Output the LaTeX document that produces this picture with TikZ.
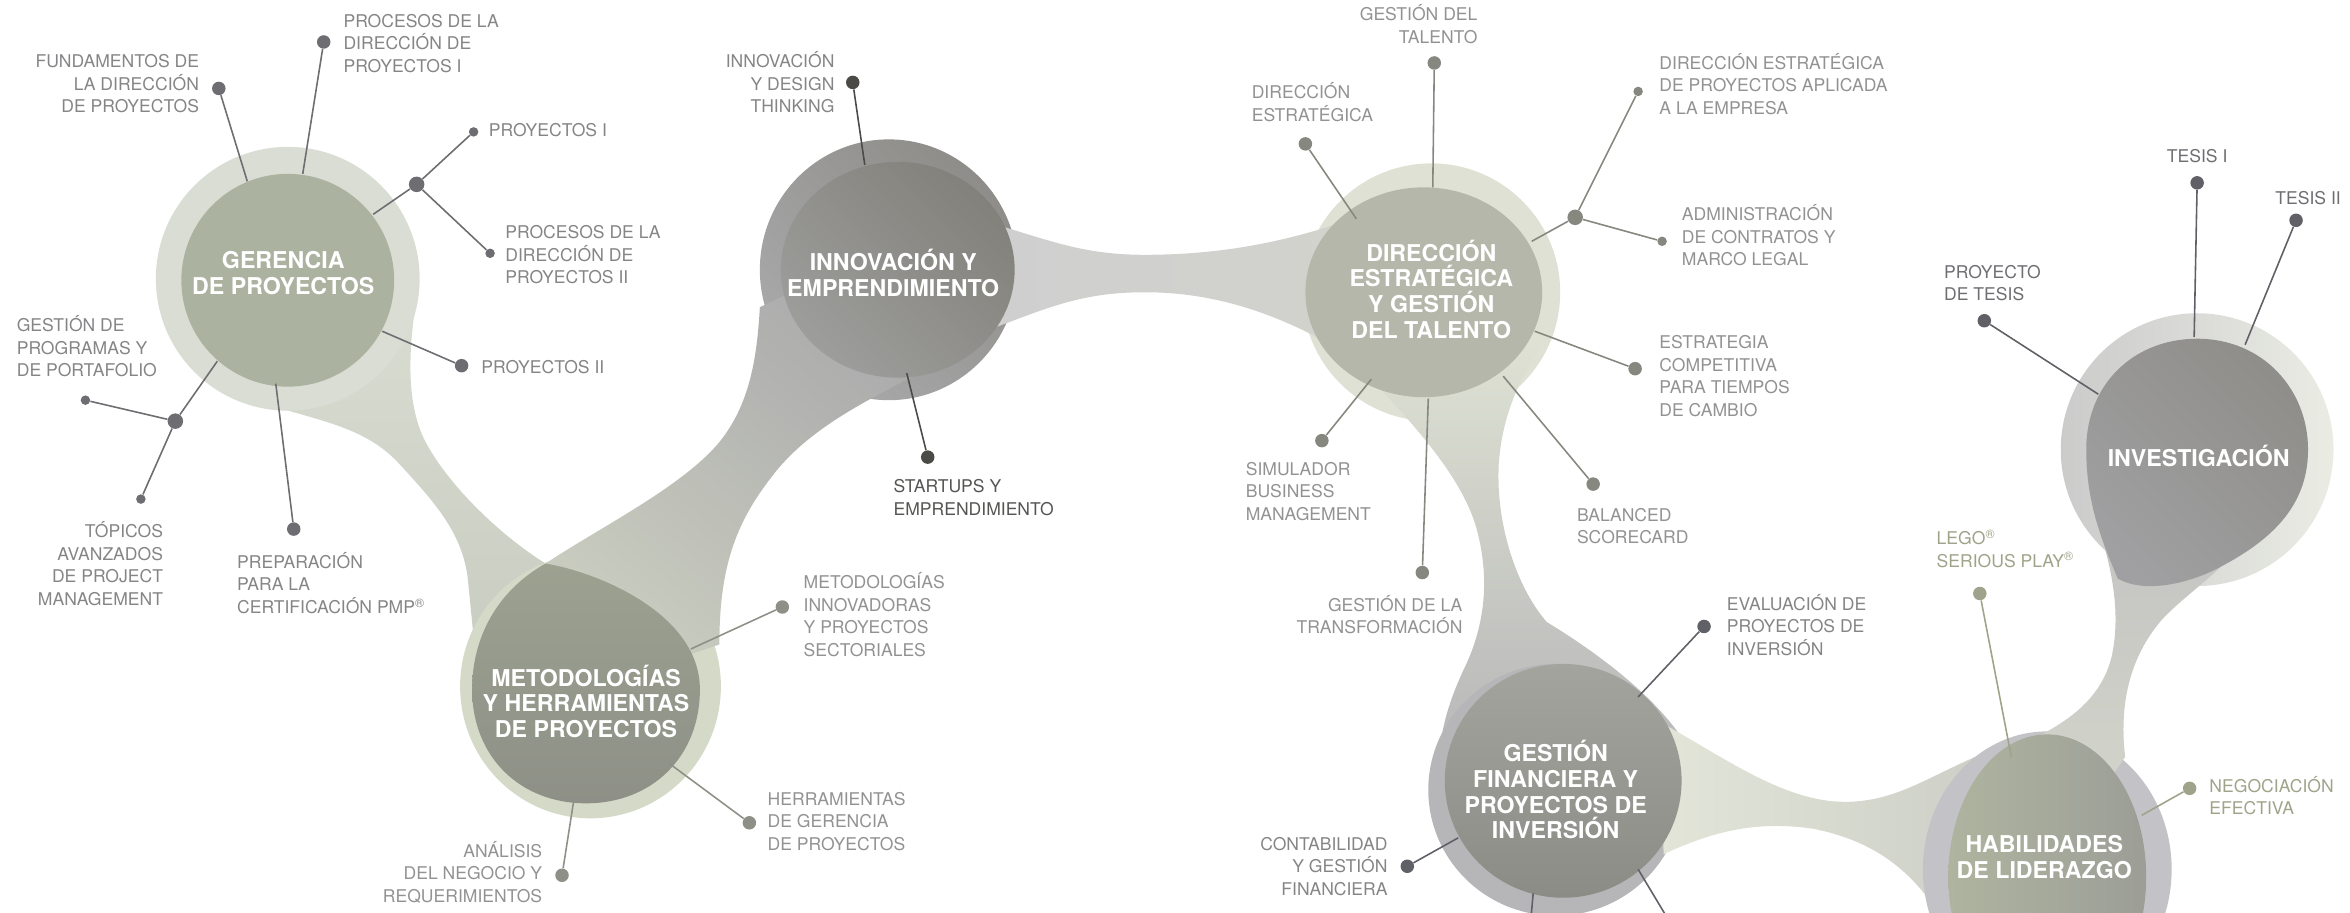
\documentclass[tikz,border=0pt]{standalone}
\usepackage{fontspec}
\setmainfont{TeX Gyre Heros}
\usepackage{tikz}

\definecolor{gerhalo}{HTML}{D9DDD3}
\definecolor{gerinner}{HTML}{ABB2A0}
\definecolor{gertailA}{HTML}{D8DCD1}
\definecolor{gertailB}{HTML}{C9CCC0}
\definecolor{methalo}{HTML}{D5D9C7}
\definecolor{metinnerA}{HTML}{9CA190}
\definecolor{metinnerB}{HTML}{8E9087}
\definecolor{bandgreen}{HTML}{C9CCBF}
\definecolor{bandgray}{HTML}{A8A8AA}
\definecolor{innhaloA}{HTML}{8E8D89}
\definecolor{innhaloB}{HTML}{A9A9AB}
\definecolor{inninnerA}{HTML}{82817B}
\definecolor{inninnerB}{HTML}{9D9D9B}
\definecolor{bandlA}{HTML}{CFCFCF}
\definecolor{bandlB}{HTML}{DBDBDB}
\definecolor{bandlC}{HTML}{D2D3CD}
\definecolor{dirhalo}{HTML}{DEE1D3}
\definecolor{dirinner}{HTML}{B5B7AB}
\definecolor{dirtailA}{HTML}{DEE1D3}
\definecolor{dirtailB}{HTML}{D2D5CA}
\definecolor{dirtailC}{HTML}{B4B4B6}
\definecolor{geshalo}{HTML}{B6B6B8}
\definecolor{gesinnerA}{HTML}{A2A49D}
\definecolor{gesinnerB}{HTML}{8B8C85}
\definecolor{habbandA}{HTML}{E2E5D8}
\definecolor{habbandB}{HTML}{CCCEC6}
\definecolor{habhalo}{HTML}{C3C3C7}
\definecolor{habinnerA}{HTML}{AFB49F}
\definecolor{habinnerB}{HTML}{9C9E97}
\definecolor{invtailA}{HTML}{C3C3C1}
\definecolor{invtailB}{HTML}{D5D7CC}
\definecolor{invhaloA}{HTML}{CBCBCB}
\definecolor{invhaloB}{HTML}{EAECE4}
\definecolor{invinnerA}{HTML}{8F8E8A}
\definecolor{invinnerB}{HTML}{A0A0A2}
\definecolor{gerdot}{HTML}{6D6D72}
\definecolor{metdot}{HTML}{8E9087}
\definecolor{inndot}{HTML}{4B4A46}
\definecolor{dirdot}{HTML}{86877F}
\definecolor{gesdot}{HTML}{606067}
\definecolor{habdot}{HTML}{A0A38B}
\definecolor{invdot}{HTML}{606066}
\definecolor{txtger}{HTML}{858587}
\definecolor{txtgray}{HTML}{929292}
\definecolor{txtdark}{HTML}{555553}
\definecolor{txtinv}{HTML}{6E6E73}
\definecolor{txtolive}{HTML}{A0A38A}

\begin{document}
\begin{tikzpicture}[x=0.03cm,y=-0.03cm,
		dotS/.style={circle,fill=#1,inner sep=0pt,minimum size=1.9mm},
		dotM/.style={circle,fill=#1,inner sep=0pt,minimum size=2.7mm},
		dotL/.style={circle,fill=#1,inner sep=0pt,minimum size=3.1mm},
		leader/.style={draw=#1,line width=0.9pt},
		lbl/.style={font=\fontsize{10}{12.8}\selectfont,text=#1,inner sep=0pt},
		lblL/.style={lbl=#1,anchor=west,align=left},
		lblR/.style={lbl=#1,anchor=east,align=right},
		ttl/.style={font=\bfseries\fontsize{13.2}{14.6}\selectfont,text=white,align=center,inner sep=0pt}
		]
		\clip (0,0) rectangle (1568,609);
		% blobs
		\shade[top color=gertailA, bottom color=gertailB] (168,266) .. controls (205,280) and (240,282) .. (265,308) .. controls (290,335) and (308,355) .. (312,385) -- (316,425) -- (370,440) -- (364,376) .. controls (335,358) and (300,325) .. (284,295) .. controls (272,272) and (272,240) .. (277,205) -- cycle;
		\fill[gerhalo] (192,186) ellipse [x radius=88, y radius=88];
		\fill[methalo] (394,458) ellipse [x radius=87, y radius=88];
		\shade[top color=innhaloA, bottom color=innhaloB, shading angle=-45] (593,180) ellipse [x radius=86, y radius=87];
		\shade[top color=bandgray, bottom color=bandgreen, shading angle=-40] (364,376) .. controls (400,352) and (455,325) .. (480,295) .. controls (500,270) and (505,240) .. (507,205) -- (580,170) -- (645,232) .. controls (600,258) and (545,278) .. (515,318) .. controls (490,350) and (480,380) .. (480,430) -- (420,450) -- cycle;
		\fill[dirhalo] (955,195) ellipse [x radius=86, y radius=86];
		\shade[left color=bandlA, middle color=bandlB, right color=bandlC] (665,150) .. controls (705,162) and (725,170) .. (764,170) .. controls (810,170) and (855,163) .. (905,145) -- (905,240) .. controls (860,212) and (815,195) .. (764,195) .. controls (722,195) and (700,205) .. (660,220) -- cycle;
		\shade[top color=dirtailA, middle color=dirtailB, bottom color=dirtailC] (912,250) .. controls (945,285) and (975,318) .. (985,352) .. controls (995,388) and (990,420) .. (976,448) .. controls (966,470) and (960,490) .. (960,515) -- (1040,530) -- (1122,492) .. controls (1100,460) and (1060,432) .. (1032,415) .. controls (1012,392) and (998,350) .. (1000,310) .. controls (1002,280) and (1012,255) .. (1030,228) -- cycle;
		\fill[geshalo] (1038,527) ellipse [x radius=85, y radius=84];
		\shade[left color=habbandA, right color=habbandB] (1108,482) .. controls (1150,505) and (1190,535) .. (1231,535) .. controls (1268,535) and (1290,515) .. (1335,498) -- (1340,560) -- (1300,620) .. controls (1280,585) and (1255,562) .. (1210,553) .. controls (1170,547) and (1140,556) .. (1110,570) -- cycle;
		\fill[habhalo] (1366,580) ellipse [x radius=83, y radius=92];
		\shade[left color=invhaloA, right color=invhaloB] (1466,300) ellipse [x radius=91, y radius=91];
		\shade[top color=invtailA, bottom color=invtailB] (1398,345) .. controls (1410,380) and (1415,410) .. (1409,438) .. controls (1402,466) and (1380,485) .. (1335,502) -- (1380,560) -- (1418,505) .. controls (1414,472) and (1420,440) .. (1442,414) .. controls (1455,400) and (1470,390) .. (1485,375) -- cycle;
		% inner circles
		\fill[gerinner] (192,187) ellipse [x radius=71, y radius=71];
		\shade[top color=metinnerA, bottom color=metinnerB] (364,376) .. controls (400,382) and (467,410) .. (467,460) .. controls (467,505) and (435,536) .. (391,536) .. controls (347,536) and (315,505) .. (315,460) .. controls (315,425) and (332,394) .. (364,376) -- cycle;
		\shade[top color=inninnerA, bottom color=inninnerB, shading angle=-45] (599,180) ellipse [x radius=78, y radius=72];
		\fill[dirinner] (950,195) ellipse [x radius=79, y radius=70];
		\shade[top color=gesinnerA, bottom color=gesinnerB] (1043,521) ellipse [x radius=79, y radius=78];
		\shade[left color=habinnerA, right color=habinnerB] (1366,585) ellipse [x radius=66, y radius=95];
		\shade[top color=invinnerA, bottom color=invinnerB, shading angle=-45] (1392,300) .. controls (1392,255) and (1425,226) .. (1466,226) .. controls (1510,226) and (1540,260) .. (1540,300) .. controls (1540,340) and (1512,362) .. (1482,378) .. controls (1460,390) and (1430,396) .. (1413,386) .. controls (1402,360) and (1392,335) .. (1392,300) -- cycle;

		\node[ttl] (nGer) at (189,182) {GERENCIA\\DE PROYECTOS};
		\node[ttl] (nMet) at (391,468) {METODOLOGÍAS\\Y HERRAMIENTAS\\DE PROYECTOS};
		\node[ttl] (nInn) at (596,182) {INNOVACIÓN Y\\EMPRENDIMIENTO};
		\node[ttl] (nDir) at (955,193) {DIRECCIÓN\\ESTRATÉGICA\\Y GESTIÓN\\DEL TALENTO};
		\node[ttl] (nGes) at (1038,527) {GESTIÓN\\FINANCIERA Y\\PROYECTOS DE\\INVERSIÓN};
		\node[ttl] (nHab) at (1364,572) {HABILIDADES\\DE LIDERAZGO};
		\node[ttl] (nInv) at (1467,304) {INVESTIGACIÓN};

		% gerencia
		\coordinate (g1) at (165,121);
		\coordinate (g2) at (202,116);
		\coordinate (g3) at (249,143);
		\coordinate (g4) at (255,221);
		\coordinate (g5) at (145,241);
		\coordinate (g6) at (184,256);
		\node[dotM=gerdot] (dFund) at (146,59) {};
		\node[dotM=gerdot] (dProcI) at (216,28) {};
		\node[dotL=gerdot] (jProy) at (278,123) {};
		\node[dotS=gerdot] (dProyI) at (316,88) {};
		\node[dotS=gerdot] (dProcII) at (327,169) {};
		\node[dotM=gerdot] (dProyII) at (308,244) {};
		\node[dotL=gerdot] (jGest) at (117,281) {};
		\node[dotS=gerdot] (dGest) at (57,267) {};
		\node[dotS=gerdot] (dTop) at (94,333) {};
		\node[dotM=gerdot] (dPrep) at (196,353) {};
		\draw[leader=gerdot] (g1) -- (dFund);
		\draw[leader=gerdot] (g2) -- (dProcI);
		\draw[leader=gerdot] (g3) -- (jProy) -- (dProyI);
		\draw[leader=gerdot] (jProy) -- (dProcII);
		\draw[leader=gerdot] (g4) -- (dProyII);
		\draw[leader=gerdot] (g5) -- (jGest) -- (dGest);
		\draw[leader=gerdot] (jGest) -- (dTop);
		\draw[leader=gerdot] (g6) -- (dPrep);
		\node[lblR=txtger] (tFund) at (133,56) {FUNDAMENTOS DE\\LA DIRECCIÓN\\DE PROYECTOS};
		\node[lblL=txtger] (tProcI) at (229,29) {PROCESOS DE LA\\DIRECCIÓN DE\\PROYECTOS I};
		\node[lblL=txtger] (tProyI) at (326,87) {PROYECTOS I};
		\node[lblL=txtger] (tProcII) at (337,170) {PROCESOS DE LA\\DIRECCIÓN DE\\PROYECTOS II};
		\node[lblL=txtger] (tProyII) at (321,245) {PROYECTOS II};
		\node[lblL=txtger] (tGest) at (11,231) {GESTIÓN DE\\PROGRAMAS Y\\DE PORTAFOLIO};
		\node[lblR=txtger] (tTop) at (109,376) {TÓPICOS\\AVANZADOS\\DE PROJECT\\MANAGEMENT};
		\node[lblL=txtger] (tPrep) at (158,389) {PREPARACIÓN\\PARA LA\\CERTIFICACIÓN PMP\textsuperscript{®}};

		% metodologias
		\coordinate (m1) at (461,433);
		\coordinate (m2) at (446,509);
		\coordinate (m3) at (383,533);
		\node[dotM=metdot] (dMet) at (522,405) {};
		\node[dotM=metdot] (dHer) at (500,549) {};
		\node[dotM=metdot] (dAna) at (375,584) {};
		\draw[leader=metdot] (m1) -- (dMet);
		\draw[leader=metdot] (m2) -- (dHer);
		\draw[leader=metdot] (m3) -- (dAna);
		\node[lblL=txtgray] (tMet) at (536,410) {METODOLOGÍAS\\INNOVADORAS\\Y PROYECTOS\\SECTORIALES};
		\node[lblL=txtgray] (tHer) at (512,548) {HERRAMIENTAS\\DE GERENCIA\\DE PROYECTOS};
		\node[lblR=txtgray] (tAna) at (362,582) {ANÁLISIS\\DEL NEGOCIO Y\\REQUERIMIENTOS};

		% innovacion
		\coordinate (n1) at (577,110);
		\coordinate (n2) at (605,249);
		\node[dotM=inndot] (dDes) at (569,55) {};
		\node[dotM=inndot] (dSta) at (619,305) {};
		\draw[leader=inndot] (n1) -- (dDes);
		\draw[leader=inndot] (n2) -- (dSta);
		\node[lblR=txtger] (tDes) at (557,55) {INNOVACIÓN\\Y DESIGN\\THINKING};
		\node[lblL=txtdark] (tSta) at (596,332) {STARTUPS Y\\EMPRENDIMIENTO};

		% direccion
		\coordinate (d1) at (956,125);
		\coordinate (d2) at (905,146);
		\coordinate (d3) at (1022,161);
		\coordinate (d4) at (1024,221);
		\coordinate (d5) at (1003,251);
		\coordinate (d6) at (915,253);
		\coordinate (d7) at (953,266);
		\node[dotM=dirdot] (dTal) at (957,42) {};
		\node[dotM=dirdot] (dDir) at (871,96) {};
		\node[dotL=dirdot] (jDir) at (1051,145) {};
		\node[dotS=dirdot] (dApl) at (1093,61) {};
		\node[dotS=dirdot] (dAdm) at (1109,161) {};
		\node[dotM=dirdot] (dEst) at (1091,246) {};
		\node[dotM=dirdot] (dBal) at (1063,323) {};
		\node[dotM=dirdot] (dSim) at (882,294) {};
		\node[dotM=dirdot] (dTra) at (949,382) {};
		\draw[leader=dirdot] (d1) -- (dTal);
		\draw[leader=dirdot] (d2) -- (dDir);
		\draw[leader=dirdot] (d3) -- (jDir) -- (dApl);
		\draw[leader=dirdot] (jDir) -- (dAdm);
		\draw[leader=dirdot] (d4) -- (dEst);
		\draw[leader=dirdot] (d5) -- (dBal);
		\draw[leader=dirdot] (d6) -- (dSim);
		\draw[leader=dirdot] (d7) -- (dTra);
		\node[lblR=txtgray] (tTal) at (986,16) {GESTIÓN DEL\\TALENTO};
		\node[lblL=txtgray] (tDir) at (835,68) {DIRECCIÓN\\ESTRATÉGICA};
		\node[lblL=txtgray] (tApl) at (1107,56) {DIRECCIÓN ESTRATÉGICA\\DE PROYECTOS APLICADA\\A LA EMPRESA};
		\node[lblL=txtgray] (tAdm) at (1122,157) {ADMINISTRACIÓN\\DE CONTRATOS Y\\MARCO LEGAL};
		\node[lblL=txtgray] (tEst) at (1107,251) {ESTRATEGIA\\COMPETITIVA\\PARA TIEMPOS\\DE CAMBIO};
		\node[lblL=txtgray] (tBal) at (1052,351) {BALANCED\\SCORECARD};
		\node[lblL=txtgray] (tSim) at (831,328) {SIMULADOR\\BUSINESS\\MANAGEMENT};
		\node[lblR=txtgray] (tTra) at (976,410) {GESTIÓN DE LA\\TRANSFORMACIÓN};

		% gestion financiera
		\coordinate (f1) at (1093,465);
		\coordinate (f2) at (973,559);
		\coordinate (f3) at (1023,596);
		\coordinate (f3e) at (1019,640);
		\coordinate (f4) at (1093,580);
		\coordinate (f4e) at (1120,625);
		\node[dotM=gesdot] (dEva) at (1137,418) {};
		\node[dotM=gesdot] (dCon) at (939,578) {};
		\draw[leader=gesdot] (f1) -- (dEva);
		\draw[leader=gesdot] (f2) -- (dCon);
		\draw[leader=gesdot] (f3) -- (f3e);
		\draw[leader=gesdot] (f4) -- (f4e);
		\node[lblL=txtger] (tEva) at (1152,417) {EVALUACIÓN DE\\PROYECTOS DE\\INVERSIÓN};
		\node[lblR=txtger] (tCon) at (926,578) {CONTABILIDAD\\Y GESTIÓN\\FINANCIERA};

		% habilidades
		\coordinate (h1) at (1342,505);
		\coordinate (h2) at (1429,544);
		\node[dotM=habdot] (dLego) at (1321,396) {};
		\node[dotM=habdot] (dNeg) at (1461,526) {};
		\draw[leader=habdot] (h1) -- (dLego);
		\draw[leader=habdot] (h2) -- (dNeg);
		\node[lblL=txtolive] (tLego) at (1292,366) {LEGO\textsuperscript{®}\\SERIOUS PLAY\textsuperscript{®}};
		\node[lblL=txtolive] (tNeg) at (1474,531) {NEGOCIACIÓN\\EFECTIVA};

		% investigacion
		\coordinate (i1) at (1464,225);
		\coordinate (i2) at (1498,230);
		\coordinate (i3) at (1400,263);
		\node[dotM=invdot] (dT1) at (1466,122) {};
		\node[dotM=invdot] (dT2) at (1532,147) {};
		\node[dotM=invdot] (dPT) at (1324,214) {};
		\draw[leader=invdot] (i1) -- (dT1);
		\draw[leader=invdot] (i2) -- (dT2);
		\draw[leader=invdot] (i3) -- (dPT);
		\node[lbl=txtinv] (tT1) at (1466,104) {TESIS I};
		\node[lblL=txtinv] (tT2) at (1518,132) {TESIS II};
		\node[lblL=txtinv] (tPT) at (1297,189) {PROYECTO\\DE TESIS};
\end{tikzpicture}
\end{document}
